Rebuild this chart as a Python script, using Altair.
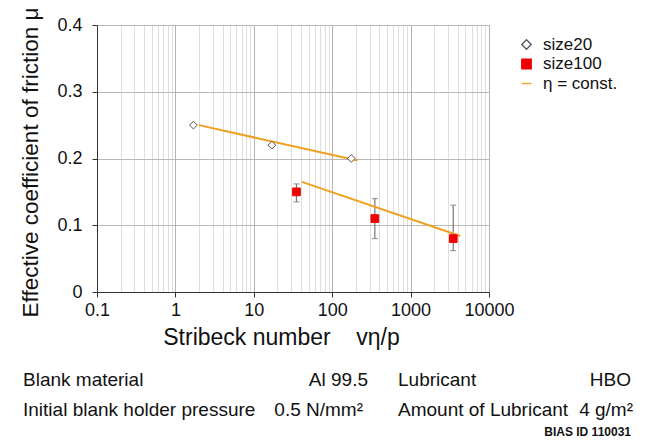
import altair as alt
import pandas as pd

# ---- data ----
s20_x = [1.7, 17, 175]
s20_y = [0.25, 0.22, 0.20]

s100_x = [35, 350, 3500]
s100_y = [0.15, 0.11, 0.08]
s100_lo = [0.135, 0.08, 0.062]
s100_hi = [0.162, 0.14, 0.13]

fit1_x = [2.0, 210]
fit1_y = [0.250, 0.197]
fit2_x = [41, 4300]
fit2_y = [0.165, 0.084]

decades = [0.1, 1, 10, 100, 1000, 10000]
y_ticks = [0, 0.1, 0.2, 0.3, 0.4]
series = ["size20", "size100", "η = const."]

minor = sorted(set([round(d * m, 6) for d in decades[:-1] for m in range(1, 10)] + [decades[-1]]))

pts = pd.DataFrame({
    "x": s20_x + s100_x,
    "y": s20_y + s100_y,
    "series": ["size20"] * 3 + ["size100"] * 3,
})
err = pd.DataFrame({"x": s100_x, "lo": s100_lo, "hi": s100_hi})
fits = pd.DataFrame({
    "x": fit1_x + fit2_x,
    "y": fit1_y + fit2_y,
    "grp": ["a", "a", "b", "b"],
})

FONT = "Liberation Sans"
NB = "\u00a0"
is_dec = "abs(log(datum.value)/LN10 - round(log(datum.value)/LN10)) < 1e-6"

xscale = alt.Scale(type="log", domain=[0.1, 10000], nice=False)
yscale = alt.Scale(domain=[0, 0.4], nice=False)

xaxis = alt.Axis(
    values=minor,
    format="~g",
    labelExpr=f"{is_dec} ? datum.label : ''",
    gridColor={"condition": {"test": is_dec, "value": "#b4b4b4"}, "value": "#dedede"},
    tickOpacity={"condition": {"test": is_dec, "value": 1}, "value": 0},
    tickSize=5, tickColor="#333", domainColor="#333",
    labelFontSize=18, labelFont=FONT, labelColor="#111", labelPadding=4,
    title="Stribeck number" + NB * 4 + "vη/p", titleFontSize=23, titleFont=FONT,
    titleFontWeight="normal", titleColor="#111", titlePadding=7,
    titleX=184, titleAnchor="middle", labelFlush=False,
)
yaxis = alt.Axis(
    values=y_ticks, format="~g",
    gridColor="#b8b8b8", tickSize=5, tickColor="#333", domainColor="#333",
    labelFontSize=18, labelFont=FONT, labelColor="#111", labelPadding=10,
    title="Effective coefficient of friction μ", titleFontSize=22.5, titleFont=FONT,
    titleFontWeight="normal", titleColor="#111", titlePadding=14, titleY=137,
)

X = alt.X("x:Q", scale=xscale, axis=xaxis)
Y = alt.Y("y:Q", scale=yscale, axis=yaxis)

fit_layer = alt.Chart(fits).mark_line(color="#f0a020", strokeWidth=2).encode(
    x=alt.X("x:Q", scale=xscale), y=alt.Y("y:Q", scale=yscale), detail="grp:N"
)

err_rule = alt.Chart(err).mark_rule(color="#777", strokeWidth=1.2).encode(
    x=alt.X("x:Q", scale=xscale), y=alt.Y("lo:Q", scale=yscale), y2="hi:Q"
)
cap_lo = alt.Chart(err).mark_tick(color="#777", orient="horizontal", size=6, thickness=1.2).encode(
    x=alt.X("x:Q", scale=xscale), y=alt.Y("lo:Q", scale=yscale)
)
cap_hi = alt.Chart(err).mark_tick(color="#777", orient="horizontal", size=6, thickness=1.2).encode(
    x=alt.X("x:Q", scale=xscale), y=alt.Y("hi:Q", scale=yscale)
)

legend = alt.Legend(
    title=None, orient="none", legendX=421, legendY=11,
    labelFontSize=17, labelFont=FONT, labelColor="#111",
    symbolSize=90, labelOffset=8, rowPadding=1.5, symbolStrokeWidth=1.3,
    labelExpr=f"datum.label == 'η = const.' ? '{NB}η = const.' : datum.label",
)
point_layer = alt.Chart(pts).mark_point(size=60, strokeWidth=1, opacity=1).encode(
    x=X, y=Y,
    shape=alt.Shape("series:N", scale=alt.Scale(domain=series, range=["diamond", "square", "stroke"]), legend=legend),
    stroke=alt.Stroke("series:N", scale=alt.Scale(domain=series, range=["#555555", "#ee0000", "#f0a020"]), legend=legend),
    fill=alt.Fill("series:N", scale=alt.Scale(domain=series, range=["#ffffff", "#ee0000", "#f0a020"]), legend=legend),
)

def txt(s, x, y, align="left", size=19, weight="normal"):
    return alt.Chart(pd.DataFrame({"t": [s]})).mark_text(
        align=align, baseline="middle", fontSize=size, font=FONT, fontWeight=weight, color="#111"
    ).encode(text="t:N", x=alt.value(x), y=alt.value(y))

texts = [
    txt("Blank material", -74, 355),
    txt("Al 99.5", 271, 355, "right"),
    txt("Lubricant", 301, 355),
    txt("HBO", 534, 355, "right"),
    txt("Initial blank holder pressure", -74, 385),
    txt("0.5 N/mm²", 266, 385, "right"),
    txt("Amount of Lubricant", 301, 385),
    txt("4 g/m²", 536, 385, "right"),
    txt("BIAS ID 110031", 534, 407, "right", 12, "bold"),
]

chart = alt.layer(err_rule, cap_lo, cap_hi, fit_layer, point_layer, *texts).properties(
    width=392, height=267,
    autosize=alt.AutoSizeParams(type="none"),
    padding={"left": 97, "top": 25, "right": 157, "bottom": 149},
    background="white",
).configure_view(stroke="#888", strokeWidth=1)

chart.save("out.html", embed_options={"renderer": "svg", "actions": False})
